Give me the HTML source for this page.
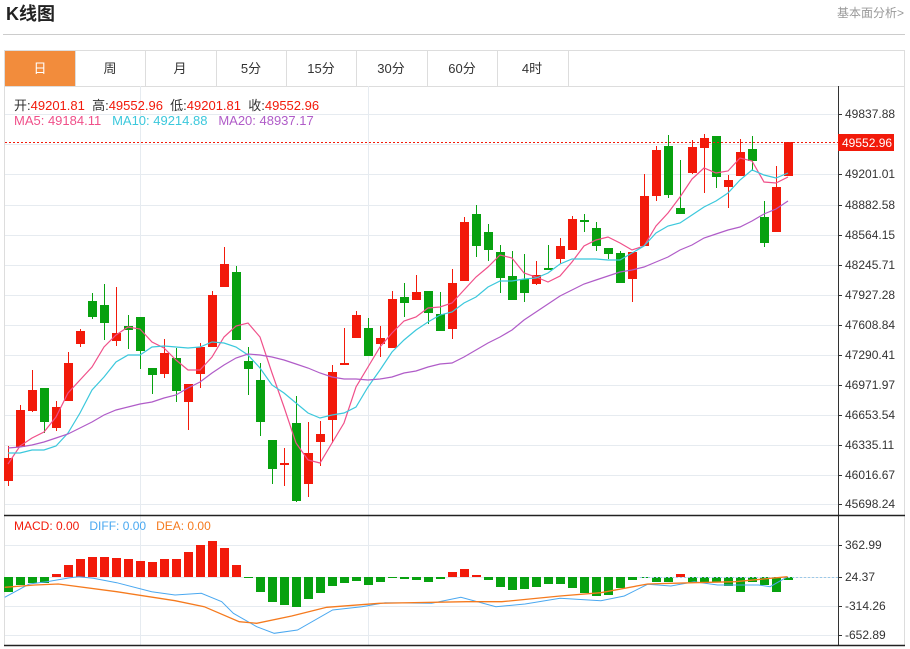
<!DOCTYPE html>
<html><head><meta charset="utf-8"><style>
body{margin:0;background:#fff;width:910px;height:649px;overflow:hidden;font-family:"Liberation Sans","Noto Sans CJK SC",sans-serif}
</style></head><body>
<svg id="s" width="910" height="649" xmlns="http://www.w3.org/2000/svg" style="position:absolute;left:0;top:0;font-family:'Liberation Sans','Noto Sans CJK SC',sans-serif">
<text x="6" y="20" font-size="18" font-weight="bold" fill="#222">K线图</text>
<text x="904" y="17" font-size="12" fill="#999" text-anchor="end">基本面分析&gt;</text>
<line x1="3" y1="34.5" x2="905" y2="34.5" stroke="#ccc"/>
<rect x="4.5" y="50.5" width="900" height="36" fill="none" stroke="#ddd"/>
<rect x="5" y="51" width="70" height="35" fill="#f28c3c"/>
<g font-size="13" fill="#333" text-anchor="middle">
<text x="40" y="73" fill="#fff">日</text><text x="110" y="73">周</text><text x="180" y="73">月</text><text x="251" y="73">5分</text><text x="321" y="73">15分</text><text x="391" y="73">30分</text><text x="462" y="73">60分</text><text x="532" y="73">4时</text>
</g>
<g stroke="#ddd"><line x1="75.5" y1="51" x2="75.5" y2="86"/><line x1="145.5" y1="51" x2="145.5" y2="86"/><line x1="216.5" y1="51" x2="216.5" y2="86"/><line x1="286.5" y1="51" x2="286.5" y2="86"/><line x1="356.5" y1="51" x2="356.5" y2="86"/><line x1="427.5" y1="51" x2="427.5" y2="86"/><line x1="497.5" y1="51" x2="497.5" y2="86"/><line x1="568.5" y1="51" x2="568.5" y2="86"/></g>
<g id="g"></g>
</svg>
<script>
var g=document.getElementById('g'),h='';
function L(a,b,c,d,s,w,e){h+='<line x1="'+a+'" y1="'+b+'" x2="'+c+'" y2="'+d+'" stroke="'+s+'" stroke-width="'+(w||1)+'" '+(e||'')+'/>';}
function T(x,y,t,c,a,f){h+='<text x="'+x+'" y="'+y+'" font-size="'+(f||12)+'" fill="'+(c||'#333')+'" text-anchor="'+(a||'start')+'">'+t+'</text>';}
// frame
L(4.5,86,4.5,645,'#ddd');L(904.5,86,904.5,645,'#ddd');
var labs=[[114,'49837.88'],[174,'49201.01'],[205,'48882.58'],[235,'48564.15'],[265,'48245.71'],[295,'47927.28'],[325,'47608.84'],[355,'47290.41'],[385,'46971.97'],[415,'46653.54'],[445,'46335.11'],[475,'46016.67'],[504,'45698.24']];
labs.forEach(function(l){L(5,l[0]+.5,838,l[0]+.5,'#e6ebf0');L(838,l[0]+.5,842,l[0]+.5,'#333');T(845,l[0]+4,l[1],'#333');});
L(5,144.5,838,144.5,'#e6ebf0');
[140.5,368.5].forEach(function(x){L(x,86,x,645,'#e6ebf0');});
var ml=[[545,'362.99'],[577,'24.37'],[606,'-314.26'],[635,'-652.89']];
ml.forEach(function(l){L(5,l[0]+.5,838,l[0]+.5,'#e6ebf0');L(838,l[0]+.5,842,l[0]+.5,'#333');T(845,l[0]+4,l[1],'#333');});
L(838.5,86,838.5,645,'#333');L(4,515.5,905,515.5,'#222',1.5);L(4,645.5,905,645.5,'#222',1.5);
// candles: [color, bodyTop, bodyBot, wickTop, wickBot]
var R='#f21a0a',G='#07a10f';
var C=[['r',458,481,446,486],['r',410,447,405,447],['r',390,411,370,412],['g',388,422,388,433],['r',407,428,401,431],['r',363,401,352,401],['r',331,344,329,347],['g',301,317,293,319],['g',305,323,284,340],['r',333,341,287,346],['g',326,330,315,349],['g',317,351,317,369],['g',368,375,368,394],['r',353,374,339,378],['g',358,391,348,402],['r',384,402,384,430],['r',347,374,343,388],['r',295,347,291,347],['r',264,287,247,287],['g',272,340,266,340],['g',361,369,347,395],['g',380,422,363,436],['g',440,469,440,484],['r',463,465,448,486],['g',423,501,396,502],['r',453,484,422,497],['r',434,442,421,466],['r',372,420,365,443],['r',363,365,328,365],['r',315,338,311,338],['g',328,356,318,356],['r',338,344,326,357],['r',299,348,291,348],['g',297,303,283,317],['r',292,300,275,300],['g',291,313,291,324],['g',314,331,292,331],['r',283,329,269,339],['r',222,281,217,281],['g',214,246,205,257],['g',232,250,224,261],['g',252,278,245,293],['g',276,300,251,300],['g',279,293,254,302],['r',275,284,261,285],['g',268,270,245,270],['r',246,259,238,264],['r',219,250,216,250],['g',220,222,214,232],['g',228,246,222,251],['g',248,254,248,259],['g',253,283,251,283],['r',252,279,252,302],['r',196,246,174,246],['r',150,196,146,201],['g',146,195,135,198],['g',208,214,160,214],['r',147,173,140,174],['r',138,148,134,193],['g',136,177,136,188],['r',180,187,175,208],['r',152,176,139,176],['g',149,161,136,171],['g',217,243,201,247],['r',187,232,166,232],['r',142,176,142,176]];
C.forEach(function(c,i){var x=8+12*i,col=c[0]=='r'?R:G;L(x+.5,c[3],x+.5,c[4],col);h+='<rect x="'+(x-4)+'" y="'+c[1]+'" width="9" height="'+Math.max(1,c[2]-c[1])+'" fill="'+col+'"/>';});
function P(pts,col,w){h+='<polyline fill="none" stroke="'+col+'" stroke-width="'+(w||1.2)+'" points="'+pts.map(function(p){return p.join(',')}).join(' ')+'"/>';}
var xs=function(a){return a.map(function(y,i){return [8+12*i,y];});};
P(xs([464,446,438,432,417,393,380,367,347,335,327,329,342,348,360,370,370,357,337,326,323,337,373,407,443,460,463,443,423,387,367,347,333,321,317,308,307,303,290,277,267,255,258,273,277,282,276,262,246,240,237,243,250,246,226,213,197,179,168,173,171,158,161,182,183,177]),'#f0508a');
P(xs([453,453,450,450,446,433,413,390,377,362,355,355,347,346,347,348,347,342,343,347,355,368,385,393,403,413,418,415,413,407,387,370,352,340,330,322,315,312,303,297,287,281,281,279,278,273,264,259,259,259,260,260,253,246,233,226,223,215,207,201,193,180,170,175,178,173]),'#3bc8dc');
P(xs([448,447,445,442,438,434,428,422,415,410,407,404,402,398,395,388,382,373,365,358,354,355,357,360,364,368,373,377,379,379,380,379,377,373,371,367,364,363,357,350,343,337,330,320,312,304,296,290,284,280,276,272,270,267,262,257,250,245,238,234,230,227,221,214,209,201]),'#b05cc8');
// last price
L(5,142.5,838,142.5,R,1,'stroke-dasharray="2,2"');
h+='<rect x="838" y="134" width="56" height="17" fill="'+R+'"/>';T(842,147,'49552.96','#fff');
// macd bars
var M=[592,585,583,583,574,565,559,557,557,558,559,561,562,559,559,552,545,541,548,565,578,592,602,605,607,599,593,586,583,581,585,582,578,579,580,582,579,572,569,575,580,587,590,589,587,584,584,588,593,596,595,588,580,578,582,582,574,582,582,582,586,592,582,585,592,580];
var Z=577;
M.forEach(function(y,i){var x=8+12*i,col=y<Z?R:G;var t=Math.min(y,Z),b=Math.max(y,Z);h+='<rect x="'+(x-4)+'" y="'+t+'" width="9" height="'+Math.max(1,b-t)+'" fill="'+col+'"/>';});
L(640,577.5,838,577.5,'#9cc9e8',1,'stroke-dasharray="2,2"');
var bz=[[8,262],[50,222],[80,215],[120,203],[135,200],[160,205],[200,218],[260,245],[300,255],[345,250],[380,275],[400,310],[440,350],[470,370],[510,360],[570,300],[620,290],[660,278],[740,280],[790,262],[850,290],[900,282],[960,265],[1030,272],[1070,258],[1110,223],[1150,228],[1190,215],[1230,225],[1300,225],[1320,230],[1350,200]];
var oz=[[8,232],[60,225],[100,222],[200,245],[300,272],[350,290],[410,335],[440,340],[500,318],[560,292],[650,280],[800,275],[860,275],[960,258],[1030,248],[1110,222],[1190,218],[1260,215],[1350,200]];
function cv(a){return a.map(function(p){return [(p[0]/1.714).toFixed(1),(510+p[1]/3).toFixed(1)];});}
P(cv(bz),'#4aa8f0',1);P(cv(oz),'#f57a1e',1.3);
g.innerHTML=h;
</script>
<div style="position:absolute;left:14px;top:95px;font-size:13px;color:#333;white-space:nowrap">开:<span style="color:#f21a0a">49201.81</span>&nbsp; 高:<span style="color:#f21a0a">49552.96</span>&nbsp; 低:<span style="color:#f21a0a">49201.81</span>&nbsp; 收:<span style="color:#f21a0a">49552.96</span></div>
<div style="position:absolute;left:14px;top:113px;font-size:13px;white-space:nowrap"><span style="color:#f0508a">MA5: 49184.11</span>&nbsp;&nbsp; <span style="color:#3bc8dc">MA10: 49214.88</span>&nbsp;&nbsp; <span style="color:#b05cc8">MA20: 48937.17</span></div>
<div style="position:absolute;left:14px;top:519px;font-size:12px;white-space:nowrap"><span style="color:#f21a0a">MACD: 0.00</span>&nbsp;&nbsp; <span style="color:#4aa8f0">DIFF: 0.00</span>&nbsp;&nbsp; <span style="color:#f57a1e">DEA: 0.00</span></div>
</body></html>
